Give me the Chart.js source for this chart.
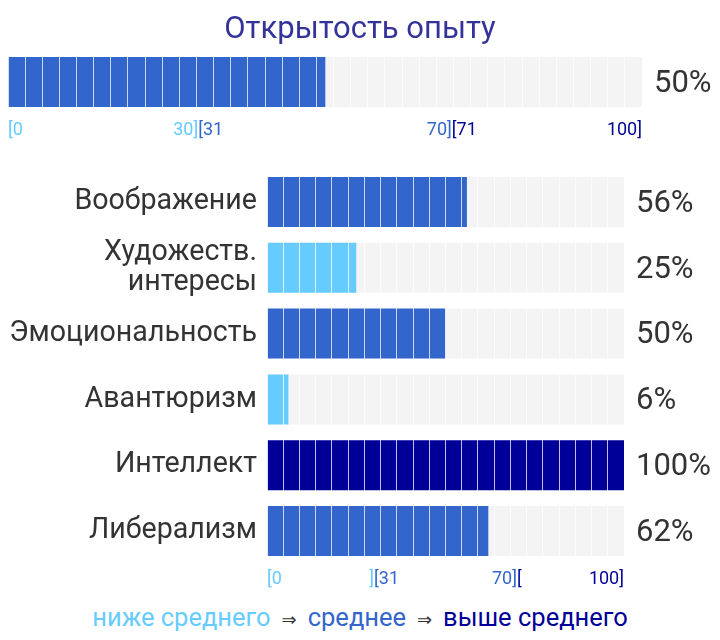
<!DOCTYPE html>
<html>
<head>
<meta charset="utf-8">
<script src="https://cdn.jsdelivr.net/npm/chart.js@4/dist/chart.umd.min.js"></script>
<style>
  body { margin: 0; background: #fff; font-family: Roboto, sans-serif; }
  #title { position: absolute; left: 0; top: 9px; width: 720px; text-align: center;
           font-size: 31px; line-height: 38px; color: #333399; }
  #top { position: absolute; left: 0; top: 0; width: 720px; height: 150px; }
  #bottom { position: absolute; left: 0; top: 155px; width: 720px; height: 445px; }
  #legend { position: absolute; left: 0; top: 600px; width: 720px; text-align: center;
            font-size: 25.5px; line-height: 34px; white-space: nowrap; }
  #legend .arr { color: #333; font-size: 18px; font-family: "DejaVu Sans", sans-serif; margin: 0 11px; }
</style>
</head>
<body>
<div id="top"><canvas id="c1"></canvas></div>
<div id="title"></div>
<div id="bottom"><canvas id="c2"></canvas></div>
<div id="legend"></div>
<script>
// data
const scaleTitle = 'Открытость опыту';
const scaleValue = [50];

const facetLabels = ['Воображение', ['Художеств.', 'интересы'], 'Эмоциональность', 'Авантюризм', 'Интеллект', 'Либерализм'];
const facetValues = [56, 25, 50, 6, 100, 62];

// band edges and the little edge labels under each bar
const bandEdges = [0, 30, 70, 100];
const topEdgeLabels = [['[0'], ['30]', '[31'], ['70]', '[71'], ['100]']];
const bottomEdgeLabels = [['[0'], [']', '[31'], ['70]', '['], ['100]']];

const bandNames = ['ниже среднего', 'среднее', 'выше среднего'];
const bandColors = ['#66ccff', '#3366cc', '#000099'];

const bandColor = v => v <= bandEdges[1] ? bandColors[0] : v <= bandEdges[2] ? bandColors[1] : bandColors[2];

// percent labels + edge labels
const decor = {
  id: 'decor',
  afterDraw(chart, args, opts) {
    const { ctx, chartArea } = chart;
    const xs = chart.scales.x;
    const meta = chart.getDatasetMeta(1);
    const vals = chart.data.datasets[1].data;
    ctx.save();
    ctx.font = '31px Roboto';
    ctx.fillStyle = '#333';
    ctx.textBaseline = 'middle';
    ctx.textAlign = 'left';
    meta.data.forEach((bar, i) => ctx.fillText(vals[i] + '%', chartArea.right + 12, bar.y + 2));

    const last = meta.data[meta.data.length - 1];
    const y = last.y + last.height / 2 + 23;
    ctx.font = '18px Roboto';
    opts.edgeLabels.forEach((pieces, i) => {
      const px = xs.getPixelForValue(bandEdges[i]);
      let before, after;
      if (i === 0) after = pieces[0];
      else { before = pieces[0]; after = pieces[1]; }
      if (before) {
        ctx.textAlign = 'right';
        ctx.fillStyle = bandColors[i - 1];
        ctx.fillText(before, px, y);
      }
      if (after) {
        ctx.textAlign = 'left';
        ctx.fillStyle = bandColors[i];
        ctx.fillText(after, px, y);
      }
    });
    ctx.restore();
  }
};

function makeConfig(labels, values, segCount, edgeLabels, extra) {
  return {
    type: 'bar',
    data: {
      labels,
      datasets: [
        { data: values.map(() => 100), backgroundColor: '#f4f4f4', grouped: false, order: 2 },
        { data: values, backgroundColor: values.map(bandColor), grouped: false, order: 1 }
      ]
    },
    plugins: [decor],
    options: {
      indexAxis: 'y',
      responsive: true,
      maintainAspectRatio: false,
      animation: false,
      layout: extra.padding,
      datasets: { bar: { barPercentage: extra.barPct, categoryPercentage: 1 } },
      scales: {
        x: {
          min: 0, max: 100,
          border: { display: false },
          grid: { color: 'rgba(255,255,255,0.75)', lineWidth: 1, drawTicks: false, z: 1 },
          ticks: { display: false, count: segCount + 1 }
        },
        y: extra.y
      },
      plugins: {
        legend: { display: false },
        tooltip: { enabled: false },
        title: { display: false },
        decor: { edgeLabels }
      }
    }
  };
}

document.getElementById('title').textContent = scaleTitle;

new Chart(document.getElementById('c1'), makeConfig([scaleTitle], scaleValue, 37, topEdgeLabels, {
  padding: { padding: { left: 8, right: 78, top: 57, bottom: 43 } },
  barPct: 1,
  y: { display: false }
}));

new Chart(document.getElementById('c2'), makeConfig(facetLabels, facetValues, 22, bottomEdgeLabels, {
  padding: { padding: { left: 0, right: 96, top: 14, bottom: 36 } },
  barPct: 0.76,
  y: {
    border: { display: false },
    grid: { display: false, drawTicks: false },
    ticks: { color: '#333', padding: 10, font: { family: 'Roboto', size: 28.6, lineHeight: 1.05 } },
    afterFit(scale) {
      scale.width = 267;
      scale.paddingTop = 0;
      scale.paddingBottom = 0;
    }
  }
}));

// legend line
const legend = document.getElementById('legend');
bandNames.forEach((name, i) => {
  if (i > 0) {
    const a = document.createElement('span');
    a.className = 'arr';
    a.textContent = '⇒';
    legend.appendChild(a);
  }
  const s = document.createElement('span');
  s.style.color = bandColors[i];
  s.textContent = name;
  legend.appendChild(s);
});
</script>
</body>
</html>
